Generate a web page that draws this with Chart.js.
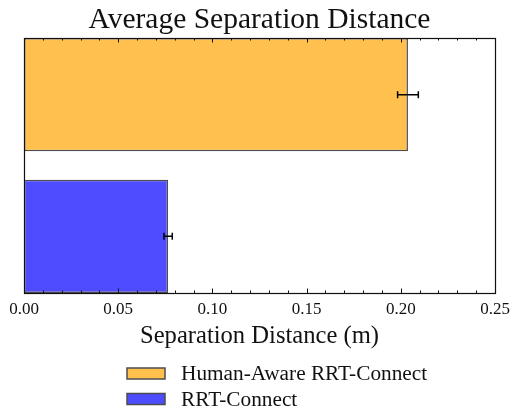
<!DOCTYPE html>
<html>
<head>
<meta charset="utf-8">
<script src="https://cdn.jsdelivr.net/npm/chart.js@4"></script>
<style>
  html, body { margin: 0; padding: 0; background: #ffffff; }
  canvas { display: block; }
</style>
</head>
<body>
<canvas id="chart" width="512" height="409"></canvas>
<script>
// Planner variants, their mean separation distance (m) and error half-widths
const categories = ['Human-Aware RRT-Connect', 'RRT-Connect'];
const meanDistance = [0.2038, 0.0765];
const errDistance = [0.0055, 0.0022];
const rowPosition = [1, 0];
const fillColors = ['#ffc04d', '#4d4dff'];
const xTicks = [0.00, 0.05, 0.10, 0.15, 0.20, 0.25];

const SERIF = '"Liberation Serif", "Times New Roman", serif';
const EDGE = '#4d4d4d';
const INK = '#111111';

// Box frame with inward major/minor ticks on top and bottom
const framePlugin = {
  id: 'frame',
  afterDatasetsDraw(chart) {
    const { ctx, chartArea: a, scales: { x } } = chart;
    ctx.save();
    ctx.strokeStyle = INK;
    ctx.lineWidth = 1;
    ctx.beginPath();
    for (let i = 0; i <= 25; i++) {
      const px = Math.round(x.getPixelForValue(i / 100)) + 0.5;
      const len = (i % 5 === 0) ? 4.5 : 2.5;
      ctx.moveTo(px, a.bottom);
      ctx.lineTo(px, a.bottom - len);
      ctx.moveTo(px, a.top);
      ctx.lineTo(px, a.top + len);
    }
    ctx.stroke();
    ctx.lineWidth = 1.2;
    ctx.strokeRect(a.left + 0.5, a.top + 0.5, a.right - a.left, a.bottom - a.top);
    ctx.restore();
  }
};

// Error bars with caps, centred on each bar
const errorBarPlugin = {
  id: 'errorBars',
  afterDatasetsDraw(chart) {
    const { ctx, scales: { x, y } } = chart;
    ctx.save();
    ctx.strokeStyle = '#000000';
    ctx.lineWidth = 1.5;
    categories.forEach((_, i) => {
      const py = y.getPixelForValue(rowPosition[i]);
      const x0 = x.getPixelForValue(meanDistance[i] - errDistance[i]);
      const x1 = x.getPixelForValue(meanDistance[i] + errDistance[i]);
      ctx.beginPath();
      ctx.moveTo(x0, py); ctx.lineTo(x1, py);
      ctx.moveTo(x0, py - 3.5); ctx.lineTo(x0, py + 3.5);
      ctx.moveTo(x1, py - 3.5); ctx.lineTo(x1, py + 3.5);
      ctx.stroke();
    });
    ctx.restore();
  }
};

// Single-column legend below the axis title
const legendPlugin = {
  id: 'columnLegend',
  afterDraw(chart) {
    const { ctx } = chart;
    ctx.save();
    ctx.font = '21.3px ' + SERIF;
    ctx.textBaseline = 'middle';
    chart.data.datasets.forEach((ds, i) => {
      const cy = 373.5 + i * 25.5;
      ctx.fillStyle = ds.backgroundColor;
      ctx.fillRect(127, cy - 5.5, 38, 11);
      ctx.strokeStyle = EDGE;
      ctx.lineWidth = 1.5;
      ctx.strokeRect(127, cy - 5.5, 38, 11);
      ctx.fillStyle = INK;
      ctx.fillText(ds.label, 181, cy + 1);
    });
    ctx.restore();
  }
};

new Chart(document.getElementById('chart'), {
  type: 'bar',
  data: {
    datasets: categories.map((name, i) => ({
      label: name,
      data: [{ x: meanDistance[i], y: rowPosition[i] }],
      backgroundColor: fillColors[i],
      borderColor: EDGE,
      borderWidth: 1.5,
      borderSkipped: false,
      grouped: false,
      categoryPercentage: 0.8,
      barPercentage: 1.0
    }))
  },
  options: {
    responsive: false,
    animation: false,
    indexAxis: 'y',
    layout: { padding: { left: 24, right: 17, top: 0, bottom: 58 } },
    plugins: {
      legend: { display: false },
      tooltip: { enabled: false },
      title: {
        display: true,
        text: 'Average Separation Distance',
        color: INK,
        font: { family: SERIF, size: 29.5, weight: 'normal', lineHeight: 1.1 },
        padding: { top: 4.5, bottom: 1.05 }
      }
    },
    scales: {
      x: {
        type: 'linear',
        min: 0,
        max: 0.25,
        afterBuildTicks: (s) => { s.ticks = xTicks.map(v => ({ value: v })); },
        afterFit: (s) => { s.height = 58; s.paddingLeft = 0; s.paddingRight = 0; },
        ticks: {
          callback: (v) => Number(v).toFixed(2),
          color: INK,
          font: { family: SERIF, size: 17, lineHeight: 1.2 },
          padding: 6,
          maxRotation: 0,
          autoSkip: false
        },
        grid: { display: false, drawTicks: false },
        border: { display: false },
        title: {
          display: true,
          text: 'Separation Distance (m)',
          color: INK,
          font: { family: SERIF, size: 24.6, lineHeight: 1.2 },
          padding: { top: 2, bottom: 0 }
        }
      },
      y: {
        type: 'linear',
        min: -0.4,
        max: 1.4,
        offset: false,
        display: false,
        afterBuildTicks: (s) => { s.ticks = rowPosition.map(v => ({ value: v })); }
      }
    }
  },
  plugins: [framePlugin, errorBarPlugin, legendPlugin]
});
</script>
</body>
</html>
